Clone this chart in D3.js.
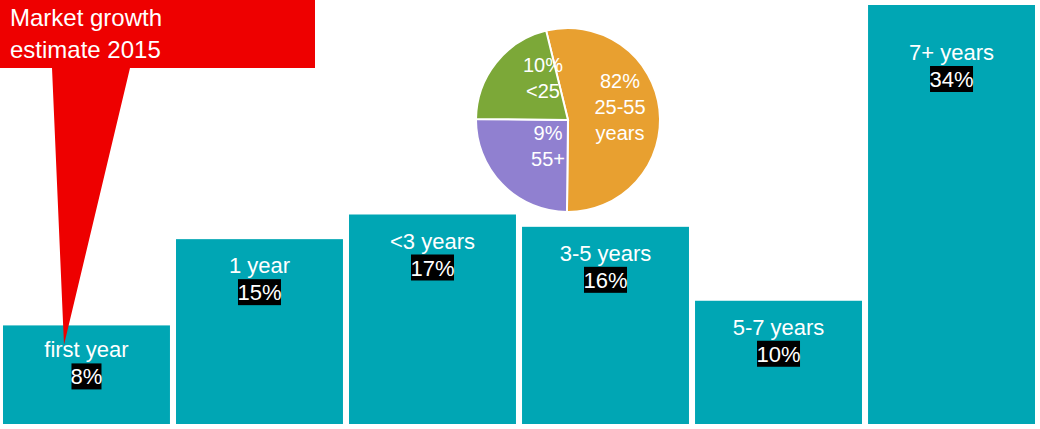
<!DOCTYPE html><html><head><meta charset="utf-8">
<script src="https://cdn.jsdelivr.net/npm/d3@7"></script>
<style>body{margin:0;background:#fff}</style></head><body>
<svg id="c" width="1040" height="429"></svg>
<script>
const categories=["first year","1 year","<3 years","3-5 years","5-7 years","7+ years"];
const values=[8,15,17,16,10,34];
const pieLabels=[["82%","25-55","years"],["9%","55+"],["10%","<25"]];
const pieShares=[54,25,21]; // slice angles as drawn in the picture
const pieColors=["#E8A030","#9080D0","#7CA838"];
const svg=d3.select("#c");
const x=d3.scaleBand().domain(categories).range([3,1035]).paddingInner(0.035);
const y=d3.scaleLinear().domain([0,34]).range([424,5]);
const g=svg.append("g").attr("font-family","Arial, Liberation Sans, sans-serif");
categories.forEach((c,i)=>{
  const x0=x(c),w=x.bandwidth(),top=y(values[i]);
  g.append("rect").attr("x",x0).attr("y",top).attr("width",w).attr("height",y(0)-top).attr("fill","#00A6B4");
  const cx=x0+w/2, ty=top+(i==5?55:i==0?32:34);
  g.append("text").attr("x",cx).attr("y",ty).attr("text-anchor","middle").attr("fill","#fff").attr("font-size",22).text(c);
  const t=values[i]+"%";
  const bw=t.length*13+4;
  g.append("rect").attr("x",cx-bw/2).attr("y",ty+6).attr("width",bw).attr("height",26).attr("fill","#000");
  g.append("text").attr("x",cx).attr("y",ty+27).attr("text-anchor","middle").attr("fill","#fff").attr("font-size",22).text(t);
});
const pg=g.append("g").attr("transform","translate(568,120)");
const arcs=d3.pie().sort(null).startAngle(-0.24).endAngle(-0.24+2*Math.PI)(pieShares);
const arc=d3.arc().innerRadius(0).outerRadius(92);
pg.selectAll("path").data(arcs).join("path").attr("d",arc).attr("fill",(d,i)=>pieColors[i]).attr("stroke","#fff").attr("stroke-width",2);
const lp=[[52,-32],[-20,20],[-25,-48]];
pieLabels.forEach((ls,i)=>{
  const t=pg.append("text").attr("text-anchor","middle").attr("fill","#fff").attr("font-size",20);
  ls.forEach((l,j)=>t.append("tspan").attr("x",lp[i][0]).attr("y",lp[i][1]+j*26).text(l));
});
g.append("path").attr("d","M0,0H315V68H130L64,345L52,68H0Z").attr("fill","#EE0000");
g.append("text").attr("x",10).attr("y",26).attr("fill","#fff").attr("font-size",24).text("Market growth");
g.append("text").attr("x",10).attr("y",58).attr("fill","#fff").attr("font-size",24).text("estimate 2015");
</script></body></html>
